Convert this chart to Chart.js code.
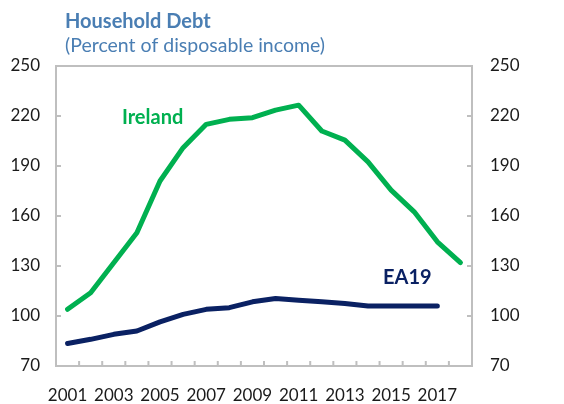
<!DOCTYPE html>
<html>
<head>
<meta charset="utf-8">
<script src="https://cdn.jsdelivr.net/npm/chart.js@4.4.1/dist/chart.umd.min.js"></script>
<style>
    html, body { margin: 0; padding: 0; background: #ffffff; }
    #contenedor { width: 564px; height: 404px; }
</style>
</head>
<body>
<div id="contenedor"><canvas id="grafico"></canvas></div>
<script>
// Datos del grafico
const anios = ['2001', '2002', '2003', '2004', '2005', '2006', '2007', '2008', '2009',
               '2010', '2011', '2012', '2013', '2014', '2015', '2016', '2017', '2018'];
const irlanda = [104, 114, 132, 150, 181, 201, 215, 218, 219, 223.5, 226.5, 211, 205.5, 192.5, 175.5, 162.5, 144.5, 132];
const ea19 = [83.5, 86, 89, 91, 96.5, 101, 104, 105, 108.5, 110.5, 109.5, 108.5, 107.5, 106, 106, 106, 106, null];
const ticksY = [70, 100, 130, 160, 190, 220, 250];

const titulo = 'Household Debt';
const subtitulo = '(Percent of disposable income)';

const FUENTE = 'Lato, "Open Sans", sans-serif';
const VERDE = '#00b050';
const AZUL = '#0a2163';
const GRIS = '#bfbfbf';

// Titulo, marco, marcas interiores y etiquetas de las series
const pluginDecoracion = {
    id: 'decoracion',
    beforeDatasetsDraw(chart) {
        const ctx = chart.ctx;
        const area = chart.chartArea;
        const x = chart.scales.x;
        const y = chart.scales.y;

        ctx.save();
        ctx.strokeStyle = GRIS;
        ctx.lineWidth = 2;
        ctx.strokeRect(area.left, area.top, area.right - area.left, area.bottom - area.top);

        // marcas del eje y hacia dentro, a ambos lados
        ctx.beginPath();
        ticksY.forEach(v => {
            const py = y.getPixelForValue(v);
            ctx.moveTo(area.left, py);
            ctx.lineTo(area.left + 5, py);
            ctx.moveTo(area.right, py);
            ctx.lineTo(area.right - 5, py);
        });
        // marcas del eje x entre categorias
        for (let i = 0; i < anios.length - 1; i++) {
            const px = x.getPixelForValue(i + 0.5);
            ctx.moveTo(px, area.bottom);
            ctx.lineTo(px, area.bottom - 5);
        }
        ctx.stroke();
        ctx.restore();
    },
    afterDatasetsDraw(chart) {
        const ctx = chart.ctx;
        const x = chart.scales.x;
        const y = chart.scales.y;

        ctx.save();
        ctx.textAlign = 'center';
        ctx.textBaseline = 'middle';
        ctx.font = 'bold 20px ' + FUENTE;
        ctx.fillStyle = VERDE;
        ctx.fillText('Ireland', x.getPixelForValue(3.68), y.getPixelForValue(219));
        ctx.fillStyle = AZUL;
        ctx.fillText('EA19', x.getPixelForValue(14.7), y.getPixelForValue(123));

        ctx.textAlign = 'left';
        ctx.textBaseline = 'alphabetic';
        ctx.fillStyle = '#4a7eb3';
        ctx.font = 'bold 20px ' + FUENTE;
        ctx.fillText(titulo, 65, 28);
        ctx.font = '19.5px ' + FUENTE;
        ctx.fillText(subtitulo, 65, 52);
        ctx.restore();
    }
};

const ctx = document.getElementById('grafico');

new Chart(ctx, {
    type: 'line',
    data: {
        labels: anios,
        datasets: [
            {
                label: 'Ireland',
                data: irlanda,
                borderColor: VERDE,
                borderWidth: 5,
                pointRadius: 0,
                tension: 0,
                borderJoinStyle: 'round',
                borderCapStyle: 'round'
            },
            {
                label: 'EA19',
                data: ea19,
                borderColor: AZUL,
                borderWidth: 5,
                pointRadius: 0,
                tension: 0,
                borderJoinStyle: 'round',
                borderCapStyle: 'round'
            }
        ]
    },
    options: {
        responsive: true,
        maintainAspectRatio: false,
        animation: false,
        layout: { padding: { top: 66, left: 0, right: 0, bottom: 0 } },
        plugins: {
            legend: { display: false },
            tooltip: { enabled: false }
        },
        scales: {
            x: {
                offset: true,
                grid: { display: false, drawTicks: false },
                border: { display: false },
                afterFit(scale) { scale.height = 38; },
                ticks: {
                    color: '#1a1a1a',
                    font: { family: FUENTE, size: 17 },
                    padding: 19,
                    maxRotation: 0,
                    autoSkip: false,
                    callback: (val, i) => (i % 2 === 0 ? anios[i] : '')
                }
            },
            y: {
                position: 'left',
                min: 70,
                max: 250,
                afterBuildTicks(scale) { scale.ticks = ticksY.map(v => ({ value: v })); },
                afterFit(scale) { scale.width = 56; },
                grid: { display: false, drawTicks: false },
                border: { display: false },
                ticks: {
                    color: '#1a1a1a',
                    font: { family: FUENTE, size: 17 },
                    padding: 16
                }
            },
            y2: {
                position: 'right',
                min: 70,
                max: 250,
                afterBuildTicks(scale) { scale.ticks = ticksY.map(v => ({ value: v })); },
                afterFit(scale) { scale.width = 92; },
                grid: { display: false, drawTicks: false },
                border: { display: false },
                ticks: {
                    color: '#1a1a1a',
                    font: { family: FUENTE, size: 17 },
                    padding: 18
                }
            }
        }
    },
    plugins: [pluginDecoracion]
});
</script>
</body>
</html>
